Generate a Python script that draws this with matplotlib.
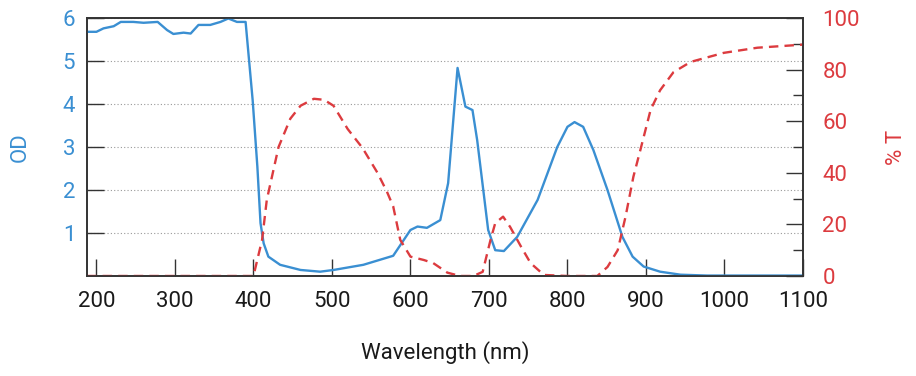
import matplotlib
matplotlib.use("Agg")
import matplotlib.pyplot as plt
from matplotlib.ticker import MultipleLocator

plt.rcParams['font.family'] = ['Roboto', 'DejaVu Sans']

blue = '#3a8fd2'
red = '#dc3b3f'
dark = '#333333'

# optical density (left axis)
od_wl = [188, 200, 209, 222, 231, 247, 260, 278, 290, 298, 311, 320, 330, 345,
         358, 368, 379, 390, 399, 405, 409, 413, 419, 434, 460, 485, 502, 540,
         578, 600, 609, 621, 638, 648, 660, 670, 679, 685, 699, 708, 719, 736,
         762, 787, 800, 809, 820, 833, 851, 870, 883, 897, 918, 944, 978, 1100]
od = [5.68, 5.68, 5.76, 5.81, 5.91, 5.91, 5.89, 5.91, 5.72, 5.63, 5.66, 5.64,
      5.84, 5.84, 5.91, 5.99, 5.91, 5.91, 4.09, 2.54, 1.23, 0.76, 0.45, 0.26,
      0.14, 0.10, 0.14, 0.26, 0.47, 1.07, 1.15, 1.12, 1.30, 2.16, 4.84, 3.94,
      3.86, 3.16, 1.07, 0.60, 0.58, 0.91, 1.77, 3.00, 3.47, 3.58, 3.47, 2.93,
      2.00, 0.91, 0.45, 0.22, 0.10, 0.03, 0.01, 0.01]

# transmission (right axis)
t_wl = [188, 395, 400, 411, 417, 432, 447, 460, 477, 490, 502, 520, 539, 558,
        570, 578, 587, 600, 617, 629, 647, 663, 680, 692, 702, 708, 718, 727,
        741, 753, 770, 800, 838, 851, 864, 874, 884, 893, 906, 918, 935, 957,
        999, 1042, 1100]
trans = [0, 0, 0, 14, 29.5, 50, 61, 66, 68.7, 68.3, 66, 57, 49.6, 40, 32.7,
         27, 14, 7.5, 6.2, 5, 1.3, 0, 0, 1.6, 14, 20.5, 23, 19, 11.3, 5, 0.4,
         0, 0, 3.5, 10, 23, 38.5, 49, 64.5, 72, 79, 83, 86.5, 88.5, 89.7]

x_ticks = [200, 300, 400, 500, 600, 700, 800, 900, 1000, 1100]

fig = plt.figure(figsize=(9.16, 3.76), dpi=100)
ax = fig.add_axes([0.095, 0.266, 0.7816, 0.686])
ax2 = ax.twinx()

ax.plot(od_wl, od, color=blue, lw=1.7, zorder=3)
ax2.plot(t_wl, trans, color=red, lw=1.7, dashes=(4, 2.6))

ax.set_xlim(188, 1100)
ax.set_ylim(0, 6)
ax2.set_ylim(0, 100)

ax.set_xticks(x_ticks)
ax.set_yticks([1, 2, 3, 4, 5, 6])
ax2.yaxis.set_major_locator(MultipleLocator(20))
ax2.yaxis.set_minor_locator(MultipleLocator(10))

ax.yaxis.grid(True, color='#999999', ls=(0, (1, 2)), lw=0.8)
ax.set_axisbelow(True)

for a in (ax, ax2):
    for s in a.spines.values():
        s.set_color(dark)
        s.set_linewidth(1.2)

ax.tick_params(axis='x', direction='in', length=12, width=1, color=dark,
               labelsize=16, labelcolor='#1a1a1a', pad=10.5, top=False)
ax.tick_params(axis='y', direction='in', length=12, width=1, color=dark,
               labelsize=16, labelcolor=blue, pad=8.5)
ax2.tick_params(axis='y', which='major', direction='in', length=12, width=1,
                color=dark, labelsize=16, labelcolor=red, pad=14)
ax2.tick_params(axis='y', which='minor', direction='in', length=7, width=1,
                color=dark)

ax.set_xlabel('Wavelength (nm)', fontsize=16, color='#1a1a1a', va='center')
ax.xaxis.set_label_coords(0.5, -0.295)
ax.set_ylabel('OD', fontsize=16, color=blue, va='center')
ax.yaxis.set_label_coords(-0.0936, 0.5)
ax2.set_ylabel('% T', fontsize=16, color=red, va='center')
ax2.yaxis.set_label_coords(1.131, 0.5)

fig.savefig('out.png', dpi=100)
